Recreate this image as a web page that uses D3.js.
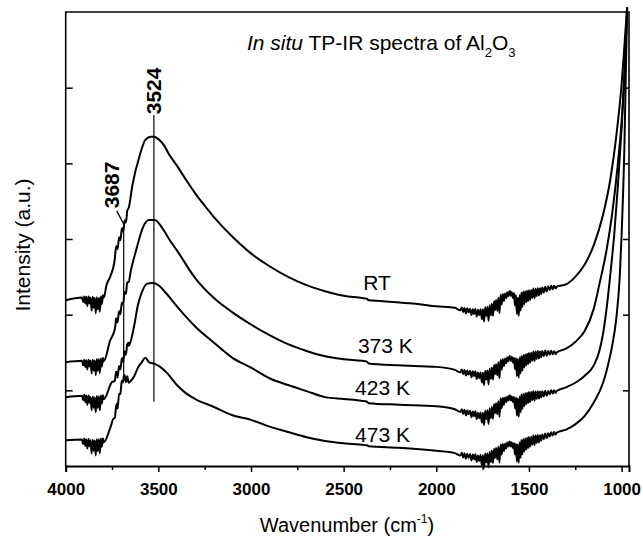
<!DOCTYPE html>
<html><head><meta charset="utf-8">
<script src="https://cdn.jsdelivr.net/npm/d3@7/dist/d3.min.js"></script>
<style>body{margin:0;background:#fff}svg{display:block}text{font-family:"Liberation Sans",Arial,sans-serif;fill:#000}</style>
</head><body><div id="chart"></div>
<script>
// ---- data (wavenumber cm-1, intensity a.u.) ----
const seriesNames = ["RT", "373 K", "423 K", "473 K"];
const rtSpectrum = [[4000,2.19],[3900,2.21],[3850,2.19],[3820,2.19],[3800,2.23],[3780,2.39],[3760,2.50],[3725,2.90],[3690,3.15],[3670,3.32],[3640,3.71],[3600,4.11],[3570,4.31],[3540,4.35],[3524,4.35],[3500,4.32],[3470,4.24],[3440,4.11],[3400,3.97],[3350,3.78],[3300,3.60],[3250,3.44],[3200,3.29],[3100,3.03],[3000,2.81],[2900,2.64],[2800,2.50],[2700,2.39],[2600,2.31],[2500,2.25],[2400,2.22],[2375,2.21],[2365,2.19],[2300,2.18],[2200,2.16],[2100,2.14],[2000,2.11],[1900,2.09],[1800,2.05],[1750,2.04],[1700,2.10],[1650,2.22],[1600,2.29],[1580,2.26],[1560,2.19],[1540,2.25],[1500,2.27],[1450,2.30],[1400,2.34],[1350,2.37],[1300,2.40],[1250,2.50],[1200,2.66],[1150,2.92],[1100,3.32],[1060,3.80],[1030,4.33],[1000,5.04],[980,5.72],[970,6.06]];
const k373Spectrum = [[4000,1.37],[3900,1.37],[3850,1.36],[3800,1.40],[3760,1.66],[3730,1.90],[3700,2.10],[3680,2.29],[3650,2.56],[3620,2.85],[3580,3.17],[3550,3.25],[3520,3.25],[3480,3.15],[3440,2.99],[3400,2.85],[3300,2.48],[3200,2.22],[3100,2.03],[3000,1.87],[2900,1.73],[2800,1.61],[2700,1.52],[2600,1.45],[2500,1.41],[2400,1.39],[2375,1.38],[2365,1.355],[2200,1.33],[2000,1.31],[1900,1.27],[1800,1.23],[1750,1.20],[1700,1.26],[1650,1.36],[1600,1.43],[1580,1.41],[1560,1.38],[1540,1.41],[1500,1.44],[1450,1.47],[1400,1.49],[1350,1.50],[1300,1.55],[1250,1.64],[1200,1.78],[1150,2.08],[1120,2.40],[1080,2.87],[1050,3.35],[1020,4.00],[1000,4.55],[985,5.15],[970,6.06]];
const k423Spectrum = [[4000,0.91],[3900,0.91],[3850,0.87],[3800,0.91],[3750,1.11],[3720,1.24],[3690,1.43],[3660,1.63],[3630,1.86],[3610,2.13],[3590,2.29],[3560,2.41],[3530,2.42],[3500,2.39],[3460,2.29],[3420,2.17],[3350,1.97],[3300,1.84],[3200,1.63],[3100,1.43],[3000,1.30],[2900,1.16],[2800,1.07],[2700,0.99],[2600,0.91],[2500,0.885],[2400,0.86],[2375,0.85],[2365,0.83],[2200,0.81],[2000,0.79],[1900,0.75],[1800,0.70],[1750,0.67],[1700,0.74],[1650,0.85],[1600,0.91],[1580,0.89],[1560,0.86],[1540,0.90],[1500,0.925],[1450,0.94],[1400,0.96],[1350,0.99],[1300,1.04],[1250,1.10],[1200,1.19],[1150,1.33],[1120,1.52],[1100,1.75],[1080,2.10],[1060,2.55],[1040,3.05],[1020,3.70],[1000,4.45],[985,5.15],[970,6.06]];
const k473Spectrum = [[4000,0.34],[3900,0.33],[3850,0.30],[3800,0.34],[3760,0.50],[3740,0.63],[3720,0.83],[3700,1.07],[3687,1.18],[3670,1.16],[3650,1.12],[3630,1.19],[3610,1.30],[3590,1.37],[3570,1.43],[3550,1.37],[3520,1.35],[3490,1.31],[3450,1.22],[3400,1.07],[3350,0.96],[3300,0.885],[3200,0.78],[3100,0.67],[3000,0.61],[2900,0.52],[2800,0.45],[2700,0.38],[2600,0.33],[2500,0.30],[2400,0.28],[2375,0.275],[2365,0.26],[2200,0.24],[2000,0.20],[1900,0.17],[1800,0.13],[1750,0.11],[1700,0.16],[1650,0.24],[1600,0.30],[1580,0.28],[1560,0.25],[1540,0.30],[1500,0.33],[1450,0.36],[1400,0.40],[1350,0.44],[1300,0.48],[1250,0.55],[1200,0.66],[1150,0.84],[1100,1.10],[1080,1.27],[1050,1.60],[1030,1.92],[1010,2.50],[1000,3.05],[985,4.20],[970,6.06]];
// water-vapour noise lines: [wavenumber, offset]
const noiseLines = [[3912,0.02],[3906,-0.04],[3900,0.03],[3894,-0.06],[3889,0.03],[3883,-0.09],[3877,0.04],[3871,-0.05],[3866,0.03],[3860,-0.14],[3855,0.04],[3849,-0.10],[3843,0.03],[3838,-0.17],[3832,0.04],[3827,-0.12],[3821,0.03],[3816,-0.16],[3810,0.03],[3805,-0.08],[3799,0.02],[3794,-0.05],
[3735,-0.05],[3728,0.04],[3720,-0.07],[3712,0.03],[3705,-0.06],[3697,0.03],[3690,-0.05],[3682,0.03],[3675,-0.06],[3668,0.03],[3660,-0.04],
[1870,-0.02],[1862,0.02],[1855,-0.04],[1848,0.02],[1840,-0.05],[1833,0.02],[1826,-0.03],[1818,0.02],[1810,-0.06],[1803,0.02],[1796,-0.04],[1789,0.03],[1782,-0.07],[1775,0.02],[1768,-0.05],[1761,0.03],[1754,-0.10],[1748,0.03],[1742,-0.14],[1736,0.04],[1730,-0.08],[1724,0.03],[1718,-0.16],[1712,0.04],[1706,-0.10],[1700,0.04],[1694,-0.13],[1688,0.05],[1683,-0.08],[1677,0.04],[1671,-0.12],[1665,0.04],[1659,-0.18],[1653,0.05],[1647,-0.09],[1641,0.04],[1635,-0.06],[1629,0.03],[1623,-0.04],[1617,0.03],[1611,-0.03],[1605,0.03],[1599,-0.04],[1593,0.02],[1587,-0.05],[1581,0.02],[1575,-0.12],[1570,0.03],[1565,-0.20],[1560,0.03],[1555,-0.22],[1550,0.04],[1545,-0.18],[1540,0.04],[1535,-0.15],[1530,0.05],[1525,-0.12],[1520,0.05],[1515,-0.10],[1510,0.05],[1505,-0.09],[1500,0.05],[1494,-0.08],[1488,0.05],[1482,-0.06],[1476,0.06],[1470,-0.07],[1464,0.05],[1458,-0.05],[1452,0.05],[1446,-0.05],[1440,0.04],[1434,-0.04],[1428,0.04],[1420,-0.03],[1412,0.04],[1404,-0.03],[1396,0.03],[1388,-0.02],[1380,0.03],[1372,-0.02],[1364,0.02],[1356,-0.02]];
const xTicks = [4000, 3500, 3000, 2500, 2000, 1500, 1000];
const xMinorTicks = [3750, 3250, 2750, 2250, 1750, 1250];
const yTicks = [1, 2, 3, 4, 5];
const peakMarks = [{label:"3524", wn:3524, from:0.85, to:4.64}, {label:"3687", wn:3687, from:1.20, to:3.16}];
const curveLabels = [{text:"RT", wn:2320, v:2.33}, {text:"373 K", wn:2275, v:1.49}, {text:"423 K", wn:2290, v:0.94}, {text:"473 K", wn:2290, v:0.32}];

// ---- chart ----
const W = 643, H = 542;
const svg = d3.select("#chart").append("svg").attr("width", W).attr("height", H);
const x = d3.scaleLinear().domain([4000, 960]).range([65.7, 629]);
const y = d3.scaleLinear().domain([0, 6]).range([466, 12]);

function withNoise(base) {
  const interp = d3.scaleLinear().domain(base.map(d => d[0])).range(base.map(d => d[1]));
  const pts = base.map(d => [d[0], d[1]]);
  noiseLines.forEach(n => pts.push([n[0], interp(n[0]) + n[1]]));
  pts.sort((a, b) => b[0] - a[0]);
  return pts;
}
const spectra = [rtSpectrum, k373Spectrum, k423Spectrum, k473Spectrum];
const lineGen = d3.line().x(d => x(d[0])).y(d => y(d[1])).curve(d3.curveMonotoneX);
svg.append("g").selectAll("path").data(spectra).join("path")
  .attr("d", d => lineGen(withNoise(d)))
  .attr("fill", "none").attr("stroke", "#000").attr("stroke-width", 2).attr("stroke-linejoin", "round");

// frame
svg.append("path").attr("d", `M${x(4000)},${y(0)}V${y(6)}H${x(960)}V${y(0)}`)
  .attr("fill", "none").attr("stroke", "#000").attr("stroke-width", 1.6);

// bottom axis
const xAxis = svg.append("g").attr("transform", `translate(0,${y(0)})`)
  .call(d3.axisBottom(x).tickValues(xTicks).tickSize(6).tickPadding(11).tickFormat(d3.format("d")));
xAxis.select(".domain").attr("stroke-width", 2);
xAxis.selectAll(".tick line").attr("stroke-width", 1.5);
xAxis.selectAll(".tick text").attr("font-size", 17).attr("font-weight", "bold")
  .style("font-family", '"Liberation Sans",Arial,sans-serif');
svg.append("g").attr("transform", `translate(0,${y(0)})`)
  .call(d3.axisBottom(x).tickValues(xMinorTicks).tickSize(4).tickFormat(""))
  .call(g => g.select(".domain").remove())
  .selectAll("line").attr("stroke-width", 1.5);

// left and right ticks pointing inward
const yl = svg.append("g").attr("transform", `translate(${x(4000)},0)`)
  .call(d3.axisRight(y).tickValues(yTicks).tickSize(7).tickFormat(""));
yl.select(".domain").remove(); yl.selectAll("line").attr("stroke-width", 1.5);
const yr = svg.append("g").attr("transform", `translate(${x(960)},0)`)
  .call(d3.axisLeft(y).tickValues(yTicks).tickSize(6).tickFormat(""));
yr.select(".domain").remove(); yr.selectAll("line").attr("stroke-width", 1.5);

// peak marker lines
svg.append("g").selectAll("line").data(peakMarks).join("line")
  .attr("x1", d => x(d.wn)).attr("x2", d => x(d.wn))
  .attr("y1", d => y(d.to)).attr("y2", d => y(d.from))
  .attr("stroke", "#000").attr("stroke-width", 1.2);
const m0 = peakMarks[0], m1 = peakMarks[1];
svg.append("text").attr("transform", `translate(${x(m0.wn) + 7},${y(m0.to) - 24}) rotate(-90)`)
  .attr("text-anchor", "middle").attr("font-size", 21).attr("font-weight", "bold").text(m0.label);
svg.append("text").attr("transform", `translate(${x(m1.wn) - 5},${y(m1.to) - 42}) rotate(-90)`)
  .attr("text-anchor", "middle").attr("font-size", 21).attr("font-weight", "bold").text(m1.label);
svg.append("line").attr("x1", x(m1.wn) - 7).attr("y1", y(m1.to) - 16)
  .attr("x2", x(m1.wn) + 1).attr("y2", y(m1.to) - 1).attr("stroke", "#000").attr("stroke-width", 1.2);

// curve labels
svg.append("g").selectAll("text").data(curveLabels).join("text")
  .attr("x", d => x(d.wn)).attr("y", d => y(d.v)).attr("text-anchor", "middle")
  .attr("font-size", 21).text(d => d.text);

// title
const t = svg.append("text").attr("x", 247).attr("y", 50).attr("font-size", 21);
t.append("tspan").attr("font-style", "italic").text("In situ");
t.append("tspan").text(" TP-IR spectra of Al");
t.append("tspan").attr("font-size", 13).attr("dy", 7).text("2");
t.append("tspan").attr("dy", -7).text("O");
t.append("tspan").attr("font-size", 13).attr("dy", 7).text("3");

// axis titles
const xl = svg.append("text").attr("x", 347).attr("y", 532).attr("text-anchor", "middle").attr("font-size", 20);
xl.append("tspan").text("Wavenumber (cm");
xl.append("tspan").attr("font-size", 12).attr("dy", -9).text("-1");
xl.append("tspan").attr("dy", 9).text(")");
svg.append("text").attr("transform", "translate(30,245) rotate(-90)").attr("text-anchor", "middle")
  .attr("font-size", 21).text("Intensity (a.u.)");
</script></body></html>
